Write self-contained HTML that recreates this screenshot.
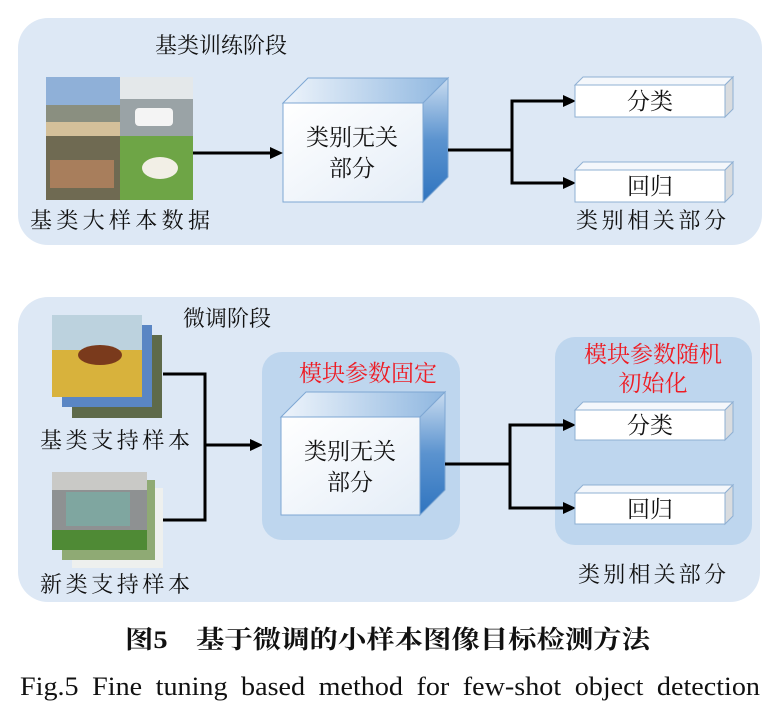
<!DOCTYPE html>
<html><head><meta charset="utf-8"><style>
html,body{margin:0;padding:0;background:#fff;}
svg{display:block;}
text{font-family:"Liberation Serif","Noto Serif CJK SC","Noto Sans CJK SC",serif;fill:#111;}
</style></head><body>
<svg width="784" height="716" viewBox="0 0 784 716" xmlns="http://www.w3.org/2000/svg">
<defs>
<linearGradient id="side" x1="0" y1="0" x2="0" y2="1"><stop offset="0" stop-color="#c9dcf0"/><stop offset="0.5" stop-color="#5b93cf"/><stop offset="1" stop-color="#2f74bf"/></linearGradient>
<linearGradient id="top" x1="0" y1="0" x2="1" y2="0"><stop offset="0" stop-color="#eef4fb"/><stop offset="1" stop-color="#8fb7e0"/></linearGradient>
<linearGradient id="front" x1="0" y1="0" x2="1" y2="1"><stop offset="0" stop-color="#ffffff"/><stop offset="1" stop-color="#e4edf7"/></linearGradient>
</defs>
<rect x="18" y="18" width="744" height="227" rx="30" fill="#dde8f5"/>
<rect x="18" y="297" width="742" height="305" rx="30" fill="#dde8f5"/>

<!-- top -->
<text x="155" y="53" font-size="22">基类训练阶段</text>
<rect x="46" y="77" width="74" height="59" fill="#8a8f80"/>
<rect x="46" y="77" width="74" height="28" fill="#8fb0d8"/>
<rect x="46" y="122" width="74" height="14" fill="#d4c09a"/>
<rect x="120" y="77" width="73" height="59" fill="#9aa3a6"/>
<rect x="120" y="77" width="73" height="22" fill="#e4e8ea"/>
<rect x="135" y="108" width="38" height="18" rx="4" fill="#f4f4f4"/>
<rect x="46" y="136" width="74" height="64" fill="#6f6a52"/>
<rect x="50" y="160" width="64" height="28" fill="#a87e5c"/>
<rect x="120" y="136" width="73" height="64" fill="#6ea546"/>
<ellipse cx="160" cy="168" rx="18" ry="11" fill="#f2efe6"/>
<text x="30" y="228" font-size="22" textLength="180">基类大样本数据</text>
<line x1="193" y1="153" x2="272" y2="153" stroke="#000" stroke-width="3"/>
<path d="M270,147 L283,153 L270,159z" fill="#000"/>
<polygon points="283,103 308,78 448,78 423,103" fill="url(#top)" stroke="#7ea7d3"/>
<polygon points="423,103 448,78 448,177 423,202" fill="url(#side)" stroke="#7ea7d3"/>
<rect x="283" y="103" width="140" height="99" fill="url(#front)" stroke="#7ea7d3"/>
<text x="352" y="145" font-size="23" text-anchor="middle">类别无关</text>
<text x="352" y="176" font-size="23" text-anchor="middle">部分</text>
<polyline points="448,150 512,150" fill="none" stroke="#000" stroke-width="3"/>
<polyline points="565,101 512,101 512,183 565,183" fill="none" stroke="#000" stroke-width="3"/>
<path d="M563,95 L576,101 L563,107z M563,177 L576,183 L563,189z" fill="#000"/>
<g stroke="#8fb0d3" stroke-width="1">
<polygon points="575,85 583,77 733,77 725,85" fill="#f4f7fb"/>
<polygon points="725,85 733,77 733,109 725,117" fill="#d9dcdf"/>
<rect x="575" y="85" width="150" height="32" fill="#fff"/>
<polygon points="575,170 583,162 733,162 725,170" fill="#f4f7fb"/>
<polygon points="725,170 733,162 733,194 725,202" fill="#d9dcdf"/>
<rect x="575" y="170" width="150" height="32" fill="#fff"/>
</g>
<text x="650" y="109" font-size="23" text-anchor="middle">分类</text>
<text x="650" y="194" font-size="23" text-anchor="middle">回归</text>
<text x="576" y="228" font-size="22" textLength="150">类别相关部分</text>

<!-- bottom -->
<text x="183" y="326" font-size="22">微调阶段</text>
<rect x="72" y="335" width="90" height="83" fill="#5e6a4a"/>
<rect x="62" y="325" width="90" height="82" fill="#5a86c4"/>
<rect x="52" y="315" width="90" height="82" fill="#d8b23c"/>
<rect x="52" y="315" width="90" height="35" fill="#bcd2de"/>
<ellipse cx="100" cy="355" rx="22" ry="10" fill="#7a3a1c"/>
<rect x="72" y="488" width="91" height="80" fill="#eef0ee"/>
<rect x="62" y="480" width="93" height="80" fill="#8faa74"/>
<rect x="52" y="472" width="95" height="78" fill="#8e9192"/>
<rect x="52" y="472" width="95" height="18" fill="#c9c9c6"/>
<rect x="66" y="492" width="64" height="34" fill="#7fa6a0"/>
<rect x="52" y="530" width="95" height="20" fill="#4f8a35"/>
<text x="40" y="448" font-size="22" textLength="150">基类支持样本</text>
<text x="40" y="592" font-size="22" textLength="150">新类支持样本</text>
<polyline points="163,374 205,374 205,520 163,520" fill="none" stroke="#000" stroke-width="3"/>
<line x1="205" y1="445" x2="252" y2="445" stroke="#000" stroke-width="3"/>
<path d="M250,439 L263,445 L250,451z" fill="#000"/>
<rect x="262" y="352" width="198" height="188" rx="20" fill="#bed6ee"/>
<rect x="555" y="337" width="197" height="208" rx="20" fill="#bed6ee"/>
<text x="368" y="381" font-size="23" text-anchor="middle" style="fill:#ee1c24">模块参数固定</text>
<polygon points="281,417 306,392 445,392 420,417" fill="url(#top)" stroke="#7ea7d3"/>
<polygon points="420,417 445,392 445,490 420,515" fill="url(#side)" stroke="#7ea7d3"/>
<rect x="281" y="417" width="139" height="98" fill="url(#front)" stroke="#7ea7d3"/>
<text x="350" y="459" font-size="23" text-anchor="middle">类别无关</text>
<text x="350" y="490" font-size="23" text-anchor="middle">部分</text>
<line x1="445" y1="464" x2="510" y2="464" stroke="#000" stroke-width="3"/>
<polyline points="565,425 510,425 510,508 565,508" fill="none" stroke="#000" stroke-width="3"/>
<path d="M563,419 L576,425 L563,431z M563,502 L576,508 L563,514z" fill="#000"/>
<text x="653" y="362" font-size="23" text-anchor="middle" style="fill:#ee1c24">模块参数随机</text>
<text x="653" y="391" font-size="23" text-anchor="middle" style="fill:#ee1c24">初始化</text>
<g stroke="#8fb0d3" stroke-width="1">
<polygon points="575,410 583,402 733,402 725,410" fill="#f4f7fb"/>
<polygon points="725,410 733,402 733,432 725,440" fill="#d9dcdf"/>
<rect x="575" y="410" width="150" height="30" fill="#fff"/>
<polygon points="575,493 583,485 733,485 725,493" fill="#f4f7fb"/>
<polygon points="725,493 733,485 733,516 725,524" fill="#d9dcdf"/>
<rect x="575" y="493" width="150" height="31" fill="#fff"/>
</g>
<text x="650" y="433" font-size="23" text-anchor="middle">分类</text>
<text x="650" y="517" font-size="23" text-anchor="middle">回归</text>
<text x="578" y="582" font-size="22" textLength="148">类别相关部分</text>

<text x="125" y="648" font-size="25" font-weight="bold" textLength="525" lengthAdjust="spacingAndGlyphs">图5　基于微调的小样本图像目标检测方法</text>
<text x="20" y="695" font-size="26" textLength="740" lengthAdjust="spacingAndGlyphs" word-spacing="6">Fig.5   Fine tuning based method for few-shot object detection</text>
</svg>
</body></html>
